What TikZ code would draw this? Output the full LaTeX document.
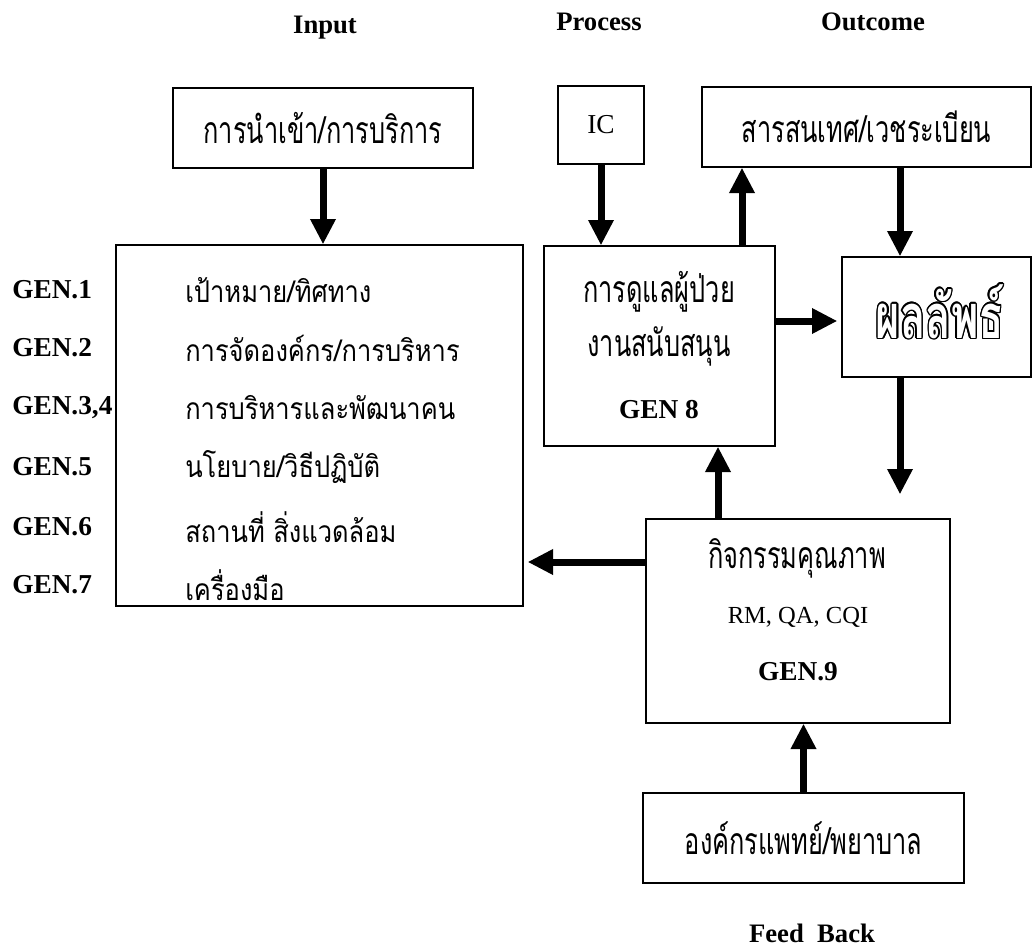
\documentclass[tikz,border=0pt]{standalone}
\usepackage{fontspec}
\setmainfont{Liberation Serif}
\newfontfamily\thaifont[Script=Thai,FakeStretch=0.85]{Loma}
\newfontfamily\thaitall[Script=Thai,FakeStretch=0.68]{Loma}
\usepackage{contour}
\contourlength{1pt}
\usetikzlibrary{arrows.meta,positioning,calc}

\begin{document}
\begin{tikzpicture}[x=0.75pt,y=-0.75pt,>={Triangle[width=18pt,length=19pt]},
  box/.style={draw,line width=1pt,inner sep=0pt},
  fat/.style={->,line width=5.25pt},
  head/.style={font=\fontsize{20}{24}\selectfont\bfseries},
  gen/.style={anchor=west,inner xsep=0pt,font=\fontsize{20.5}{24}\selectfont\bfseries},
  th/.style={font=\fontsize{28}{32}\selectfont\thaitall},
  row/.style={anchor=west,inner xsep=0pt,font=\fontsize{22.5}{26}\selectfont\thaifont}]
  \useasboundingbox (0,0) rectangle (1033,949);
  \node[head] (hin) at (325,28) {Input};
  \node[head] (hpr) at (599,22) {Process};
  \node[head] (hout) at (873,22) {Outcome};
  \node[box,th,minimum width=225pt,minimum height=60pt] (inbox) at (323,128) {การนำเข้า/การบริการ};
  \node[box,minimum width=64.5pt,minimum height=58.5pt,font=\fontsize{20.5}{24}\selectfont] (icbox) at (601,125) {IC};
  \node[box,th,minimum width=246.75pt,minimum height=60pt] (outbox) at (866.5,127) {สารสนเทศ/เวชระเบียน};
  \node[box,minimum width=305.25pt,minimum height=270.75pt] (bigbox) at (319.5,425.5) {};
  \node[box,minimum width=173.25pt,minimum height=150pt] (carebox) at (659.5,346) {};
  \node[box,minimum width=141.75pt,minimum height=90pt] (resbox) at (936.5,317) {};
  \node[box,minimum width=228pt,minimum height=153pt] (qualbox) at (798,621) {};
  \node[box,th,minimum width=240.75pt,minimum height=67.5pt] (orgbox) at (803.5,838) {องค์กรแพทย์/พยาบาล};
  \node[head] (fb) at (812,933) {Feed\ \ Back};

  \node[gen] (gen1) at (12,290) {GEN.1};
  \node[gen] (gen2) at (12,348) {GEN.2};
  \node[gen] (gen34) at (12,408) {GEN.3,4};
  \node[gen] (gen5) at (12,467) {GEN.5};
  \node[gen] (gen6) at (12,527) {GEN.6};
  \node[gen] (gen7) at (12,585) {GEN.7};
  \node[row] (goal) at (185,290) {เป้าหมาย/ทิศทาง};
  \node[row] (orga) at (185,348) {การจัดองค์กร/การบริหาร};
  \node[row] (hr) at (185,408) {การบริหารและพัฒนาคน};
  \node[row] (policy) at (185,467) {นโยบาย/วิธีปฏิบัติ};
  \node[row] (place) at (185,527) {สถานที่ สิ่งแวดล้อม};
  \node[row] (tool) at (185,585) {เครื่องมือ};

  \node[th] (care) at (659,292) {การดูแลผู้ป่วย};
  \node[th] (supp) at (659,346) {งานสนับสนุน};
  \node[gen,anchor=center] (gen8) at (659,410) {GEN 8};
  \node[font=\fontsize{46}{50}\selectfont\thaitall\bfseries] (res) at (940,312) {\contour{black}{\textcolor{white}{ผลลัพธ์}}};
  \node[th] (qual) at (797,558) {กิจกรรมคุณภาพ};
  \node[font=\fontsize{18.4}{22}\selectfont] (rm) at (798,617) {RM, QA, CQI};
  \node[gen,anchor=center] (gen9) at (798,672) {GEN.9};

  \coordinate (ry) at (0,321);
  \coordinate (ly) at (0,562);
  \coordinate (dx) at (900,0);
  \coordinate (ux) at (742,0);
  \coordinate (qx) at (718,0);
  \draw[fat] (inbox.south) -- (inbox.south |- bigbox.north);
  \draw[fat] (icbox.south) -- (icbox.south |- carebox.north);
  \draw[fat] (carebox.north -| ux) -- (outbox.south -| ux);
  \draw[fat] (outbox.south -| dx) -- (resbox.north -| dx);
  \draw[fat,shorten >=3pt] (carebox.east |- ry) -- (resbox.west |- ry);
  \draw[fat,shorten >=18pt] (resbox.south -| dx) -- (qualbox.north -| dx);
  \draw[fat] (qualbox.north -| qx) -- (carebox.south -| qx);
  \draw[fat,shorten >=3pt] (qualbox.west |- ly) -- (bigbox.east |- ly);
  \draw[fat] (orgbox.north) -- (qualbox.south -| orgbox.north);
\end{tikzpicture}
\end{document}
